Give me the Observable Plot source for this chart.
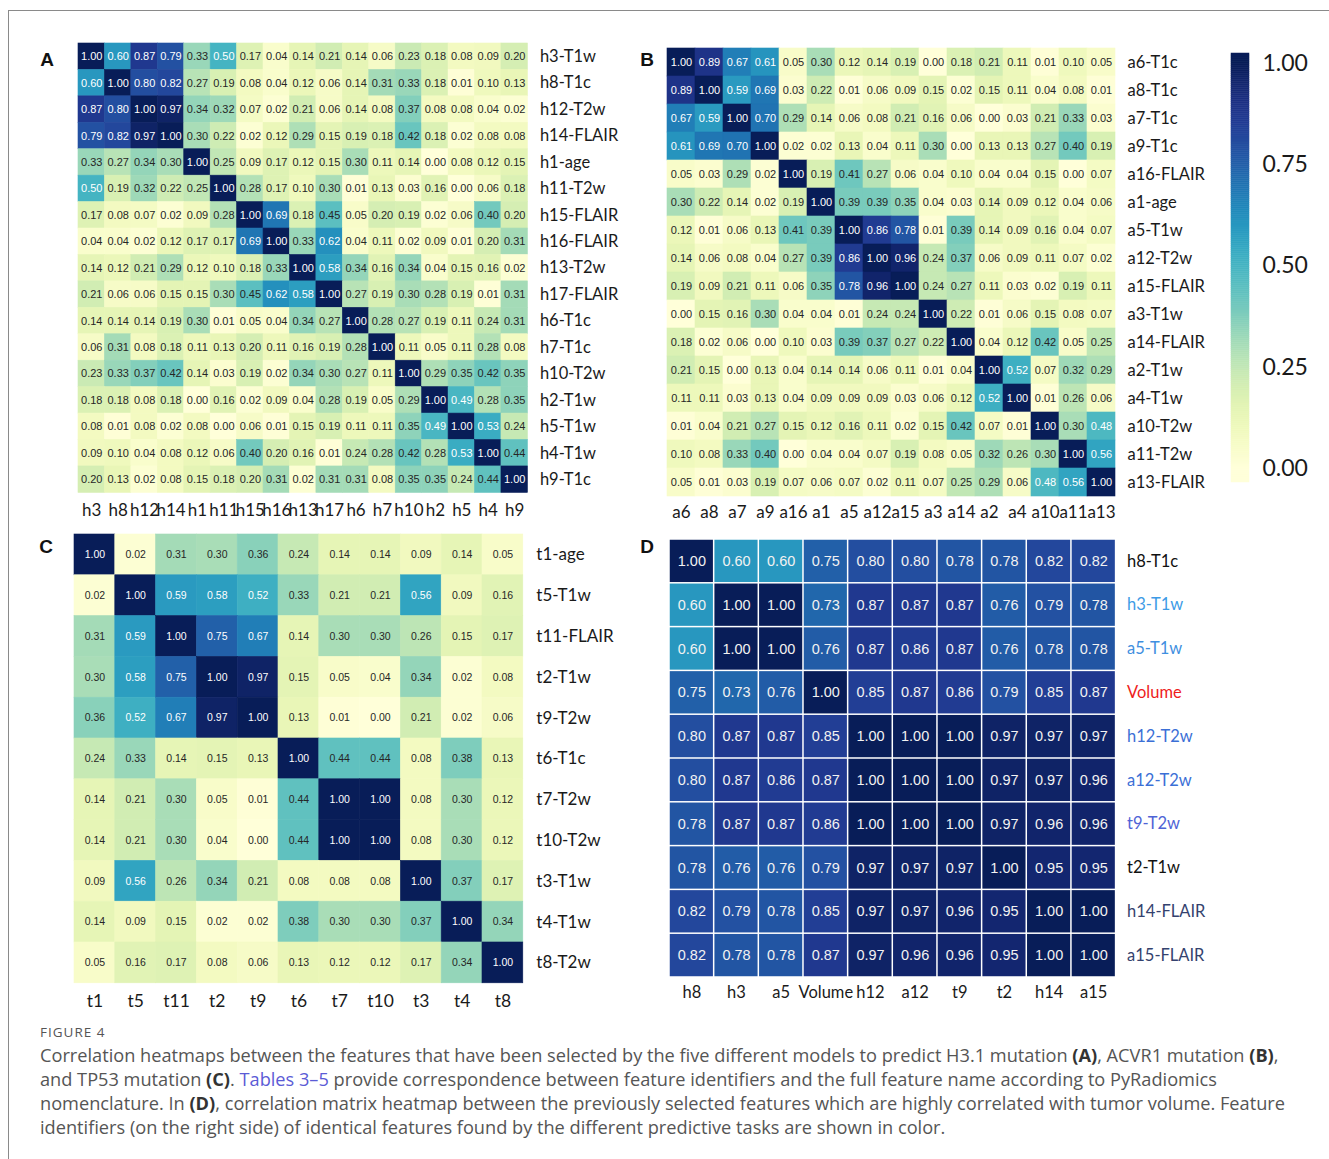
<!DOCTYPE html>
<html><head><meta charset="utf-8">
<script src="https://cdn.jsdelivr.net/npm/d3@7"></script>
<script src="https://cdn.jsdelivr.net/npm/@observablehq/plot@0.6"></script>
<style>
html,body{margin:0;padding:0;background:#fff;}
#root{position:relative;width:1329px;height:1159px;overflow:hidden;background:#fff;}
.frame-top{position:absolute;left:8px;top:10px;width:1321px;height:0;border-top:1px solid #8a8a8a;}
.frame-left{position:absolute;left:8px;top:10px;width:0;height:1149px;border-left:1px solid #8a8a8a;}
.panel{position:absolute;}
.panel svg{background:transparent !important;overflow:visible;max-width:none !important;}
.letter{position:absolute;font:bold 19px "Liberation Sans",Arial,sans-serif;color:#111;transform:translate(-50%,-50%);}
.fig{position:absolute;left:40px;top:1023px;font:13.5px "Open Sans",sans-serif;letter-spacing:1px;color:#555;}
.cap{position:absolute;left:40px;top:1043px;font:18.2px/24px "Open Sans",sans-serif;color:#555;white-space:nowrap;}
.cap b{color:#333;}
.cap .lnk{color:#5b5bd6;}
</style></head>
<body><div id="root">
<div class="frame-top"></div><div class="frame-left"></div>
<div class="letter" style="left:47px;top:60px">A</div>
<div class="letter" style="left:647px;top:60px">B</div>
<div class="letter" style="left:46px;top:547px">C</div>
<div class="letter" style="left:647px;top:547px">D</div>
<div class="fig">FIGURE 4</div>
<div class="cap">
<div>Correlation heatmaps between the features that have been selected by the five different models to predict H3.1 mutation <b>(A)</b>, ACVR1 mutation <b>(B)</b>,</div>
<div>and TP53 mutation <b>(C)</b>. <span class="lnk">Tables 3–5</span> provide correspondence between feature identifiers and the full feature name according to PyRadiomics</div>
<div>nomenclature. In <b>(D)</b>, correlation matrix heatmap between the previously selected features which are highly correlated with tumor volume. Feature</div>
<div>identifiers (on the right side) of identical features found by the different predictive tasks are shown in color.</div>
</div>
</div>
<script>
// ---------------- DATA ----------------
const rowsA = ["h3-T1w","h8-T1c","h12-T2w","h14-FLAIR","h1-age","h11-T2w","h15-FLAIR","h16-FLAIR","h13-T2w","h17-FLAIR","h6-T1c","h7-T1c","h10-T2w","h2-T1w","h5-T1w","h4-T1w","h9-T1c"];
const colsA = ["h3","h8","h12","h14","h1","h11","h15","h16","h13","h17","h6","h7","h10","h2","h5","h4","h9"];
const valuesA = [
[1.00,0.60,0.87,0.79,0.33,0.50,0.17,0.04,0.14,0.21,0.14,0.06,0.23,0.18,0.08,0.09,0.20],
[0.60,1.00,0.80,0.82,0.27,0.19,0.08,0.04,0.12,0.06,0.14,0.31,0.33,0.18,0.01,0.10,0.13],
[0.87,0.80,1.00,0.97,0.34,0.32,0.07,0.02,0.21,0.06,0.14,0.08,0.37,0.08,0.08,0.04,0.02],
[0.79,0.82,0.97,1.00,0.30,0.22,0.02,0.12,0.29,0.15,0.19,0.18,0.42,0.18,0.02,0.08,0.08],
[0.33,0.27,0.34,0.30,1.00,0.25,0.09,0.17,0.12,0.15,0.30,0.11,0.14,0.00,0.08,0.12,0.15],
[0.50,0.19,0.32,0.22,0.25,1.00,0.28,0.17,0.10,0.30,0.01,0.13,0.03,0.16,0.00,0.06,0.18],
[0.17,0.08,0.07,0.02,0.09,0.28,1.00,0.69,0.18,0.45,0.05,0.20,0.19,0.02,0.06,0.40,0.20],
[0.04,0.04,0.02,0.12,0.17,0.17,0.69,1.00,0.33,0.62,0.04,0.11,0.02,0.09,0.01,0.20,0.31],
[0.14,0.12,0.21,0.29,0.12,0.10,0.18,0.33,1.00,0.58,0.34,0.16,0.34,0.04,0.15,0.16,0.02],
[0.21,0.06,0.06,0.15,0.15,0.30,0.45,0.62,0.58,1.00,0.27,0.19,0.30,0.28,0.19,0.01,0.31],
[0.14,0.14,0.14,0.19,0.30,0.01,0.05,0.04,0.34,0.27,1.00,0.28,0.27,0.19,0.11,0.24,0.31],
[0.06,0.31,0.08,0.18,0.11,0.13,0.20,0.11,0.16,0.19,0.28,1.00,0.11,0.05,0.11,0.28,0.08],
[0.23,0.33,0.37,0.42,0.14,0.03,0.19,0.02,0.34,0.30,0.27,0.11,1.00,0.29,0.35,0.42,0.35],
[0.18,0.18,0.08,0.18,0.00,0.16,0.02,0.09,0.04,0.28,0.19,0.05,0.29,1.00,0.49,0.28,0.35],
[0.08,0.01,0.08,0.02,0.08,0.00,0.06,0.01,0.15,0.19,0.11,0.11,0.35,0.49,1.00,0.53,0.24],
[0.09,0.10,0.04,0.08,0.12,0.06,0.40,0.20,0.16,0.01,0.24,0.28,0.42,0.28,0.53,1.00,0.44],
[0.20,0.13,0.02,0.08,0.15,0.18,0.20,0.31,0.02,0.31,0.31,0.08,0.35,0.35,0.24,0.44,1.00]
];

const rowsB = ["a6-T1c","a8-T1c","a7-T1c","a9-T1c","a16-FLAIR","a1-age","a5-T1w","a12-T2w","a15-FLAIR","a3-T1w","a14-FLAIR","a2-T1w","a4-T1w","a10-T2w","a11-T2w","a13-FLAIR"];
const colsB = ["a6","a8","a7","a9","a16","a1","a5","a12","a15","a3","a14","a2","a4","a10","a11","a13"];
const valuesB = [
[1.00,0.89,0.67,0.61,0.05,0.30,0.12,0.14,0.19,0.00,0.18,0.21,0.11,0.01,0.10,0.05],
[0.89,1.00,0.59,0.69,0.03,0.22,0.01,0.06,0.09,0.15,0.02,0.15,0.11,0.04,0.08,0.01],
[0.67,0.59,1.00,0.70,0.29,0.14,0.06,0.08,0.21,0.16,0.06,0.00,0.03,0.21,0.33,0.03],
[0.61,0.69,0.70,1.00,0.02,0.02,0.13,0.04,0.11,0.30,0.00,0.13,0.13,0.27,0.40,0.19],
[0.05,0.03,0.29,0.02,1.00,0.19,0.41,0.27,0.06,0.04,0.10,0.04,0.04,0.15,0.00,0.07],
[0.30,0.22,0.14,0.02,0.19,1.00,0.39,0.39,0.35,0.04,0.03,0.14,0.09,0.12,0.04,0.06],
[0.12,0.01,0.06,0.13,0.41,0.39,1.00,0.86,0.78,0.01,0.39,0.14,0.09,0.16,0.04,0.07],
[0.14,0.06,0.08,0.04,0.27,0.39,0.86,1.00,0.96,0.24,0.37,0.06,0.09,0.11,0.07,0.02],
[0.19,0.09,0.21,0.11,0.06,0.35,0.78,0.96,1.00,0.24,0.27,0.11,0.03,0.02,0.19,0.11],
[0.00,0.15,0.16,0.30,0.04,0.04,0.01,0.24,0.24,1.00,0.22,0.01,0.06,0.15,0.08,0.07],
[0.18,0.02,0.06,0.00,0.10,0.03,0.39,0.37,0.27,0.22,1.00,0.04,0.12,0.42,0.05,0.25],
[0.21,0.15,0.00,0.13,0.04,0.14,0.14,0.06,0.11,0.01,0.04,1.00,0.52,0.07,0.32,0.29],
[0.11,0.11,0.03,0.13,0.04,0.09,0.09,0.09,0.03,0.06,0.12,0.52,1.00,0.01,0.26,0.06],
[0.01,0.04,0.21,0.27,0.15,0.12,0.16,0.11,0.02,0.15,0.42,0.07,0.01,1.00,0.30,0.48],
[0.10,0.08,0.33,0.40,0.00,0.04,0.04,0.07,0.19,0.08,0.05,0.32,0.26,0.30,1.00,0.56],
[0.05,0.01,0.03,0.19,0.07,0.06,0.07,0.02,0.11,0.07,0.25,0.29,0.06,0.48,0.56,1.00]
];

const rowsC = ["t1-age","t5-T1w","t11-FLAIR","t2-T1w","t9-T2w","t6-T1c","t7-T2w","t10-T2w","t3-T1w","t4-T1w","t8-T2w"];
const colsC = ["t1","t5","t11","t2","t9","t6","t7","t10","t3","t4","t8"];
const valuesC = [
[1.00,0.02,0.31,0.30,0.36,0.24,0.14,0.14,0.09,0.14,0.05],
[0.02,1.00,0.59,0.58,0.52,0.33,0.21,0.21,0.56,0.09,0.16],
[0.31,0.59,1.00,0.75,0.67,0.14,0.30,0.30,0.26,0.15,0.17],
[0.30,0.58,0.75,1.00,0.97,0.15,0.05,0.04,0.34,0.02,0.08],
[0.36,0.52,0.67,0.97,1.00,0.13,0.01,0.00,0.21,0.02,0.06],
[0.24,0.33,0.14,0.15,0.13,1.00,0.44,0.44,0.08,0.38,0.13],
[0.14,0.21,0.30,0.05,0.01,0.44,1.00,1.00,0.08,0.30,0.12],
[0.14,0.21,0.30,0.04,0.00,0.44,1.00,1.00,0.08,0.30,0.12],
[0.09,0.56,0.26,0.34,0.21,0.08,0.08,0.08,1.00,0.37,0.17],
[0.14,0.09,0.15,0.02,0.02,0.38,0.30,0.30,0.37,1.00,0.34],
[0.05,0.16,0.17,0.08,0.06,0.13,0.12,0.12,0.17,0.34,1.00]
];

const rowsD = ["h8-T1c","h3-T1w","a5-T1w","Volume","h12-T2w","a12-T2w","t9-T2w","t2-T1w","h14-FLAIR","a15-FLAIR"];
const colsD = ["h8","h3","a5","Volume","h12","a12","t9","t2","h14","a15"];
const valuesD = [
[1.00,0.60,0.60,0.75,0.80,0.80,0.78,0.78,0.82,0.82],
[0.60,1.00,1.00,0.73,0.87,0.87,0.87,0.76,0.79,0.78],
[0.60,1.00,1.00,0.76,0.87,0.86,0.87,0.76,0.78,0.78],
[0.75,0.73,0.76,1.00,0.85,0.87,0.86,0.79,0.85,0.87],
[0.80,0.87,0.87,0.85,1.00,1.00,1.00,0.97,0.97,0.97],
[0.80,0.87,0.86,0.87,1.00,1.00,1.00,0.97,0.97,0.96],
[0.78,0.87,0.87,0.86,1.00,1.00,1.00,0.97,0.96,0.96],
[0.78,0.76,0.76,0.79,0.97,0.97,0.97,1.00,0.95,0.95],
[0.82,0.79,0.78,0.85,0.97,0.97,0.96,0.95,1.00,1.00],
[0.82,0.78,0.78,0.87,0.97,0.96,0.96,0.95,1.00,1.00]
];

const colorbarTicks = [0, 0.25, 0.5, 0.75, 1];

// ---------------- STYLE ----------------
const labelColorsD = {
  "h8-T1c":"#111111","h3-T1w":"#3c9be6","a5-T1w":"#3f8fe0","Volume":"#ee1c1c",
  "h12-T2w":"#3b6fd6","a12-T2w":"#3b6fd6","t9-T2w":"#4f63d6","t2-T1w":"#111111",
  "h14-FLAIR":"#34426e","a15-FLAIR":"#34426e"
};
const LABEL_FONT = "Lato, 'Open Sans', sans-serif";
const NUM_FONT = "'Liberation Sans', Arial, sans-serif";
const root = document.getElementById("root");

function flatten(rows, cols, values) {
  const out = [];
  values.forEach((r, i) => r.forEach((v, j) => out.push({row: rows[i], col: cols[j], v})));
  return out;
}

function heat(cfg) {
  const data = flatten(cfg.rows, cfg.cols, cfg.values);
  const m = 4, thr = 0.47;
  const light = cfg.allLight ? data : data.filter(d => d.v > thr);
  const dark = cfg.allLight ? [] : data.filter(d => d.v <= thr);
  const txt = {x: "col", y: "row", text: d => d.v.toFixed(2), fontSize: cfg.cellFont, fontFamily: NUM_FONT};
  const svg = Plot.plot({
    width: m + cfg.w + cfg.mR, height: m + cfg.h + cfg.mB,
    marginLeft: m, marginTop: m, marginRight: cfg.mR, marginBottom: cfg.mB,
    x: {type: "band", domain: cfg.cols, padding: 0, round: false, axis: "bottom", tickSize: 0, tickPadding: cfg.xPad, label: null},
    y: {type: "band", domain: cfg.rows, padding: 0, round: false, axis: "right", tickSize: 0, tickPadding: cfg.yPad, label: null},
    color: {type: "sequential", scheme: "YlGnBu", domain: [0, 1]},
    style: {background: "transparent", overflow: "visible"},
    marks: [
      cfg.inset
        ? Plot.cell(data, {x: "col", y: "row", fill: "v", inset: cfg.inset})
        : Plot.cell(data, {x: "col", y: "row", fill: "v", stroke: "v", strokeWidth: 0.6}),
      Plot.text(light, {...txt, fill: cfg.lightColor || "white"}),
      Plot.text(dark, {...txt, fill: "#262626"})
    ]
  });
  svg.querySelectorAll('g[aria-label^="x-axis"] text').forEach(t => {
    t.style.fontSize = cfg.xFont + "px"; t.style.fontFamily = LABEL_FONT; t.style.fill = "#1a1a1a";
  });
  svg.querySelectorAll('g[aria-label^="y-axis"] text').forEach(t => {
    t.style.fontSize = cfg.yFont + "px"; t.style.fontFamily = LABEL_FONT;
    const c = cfg.labelColors && cfg.labelColors[t.textContent.trim()];
    t.style.fill = c || "#1a1a1a";
  });
  const div = document.createElement("div");
  div.className = "panel";
  div.style.left = (cfg.left - m) + "px";
  div.style.top = (cfg.top - m) + "px";
  div.style.width = (m + cfg.w + cfg.mR) + "px";
  div.appendChild(svg);
  root.appendChild(div);
}

heat({rows: rowsA, cols: colsA, values: valuesA, left: 77.8, top: 42.8, w: 449.4, h: 449.4, mR: 110, mB: 36,
      xPad: 11, yPad: 12, xFont: 17, yFont: 16.5, cellFont: 11});
heat({rows: rowsB, cols: colsB, values: valuesB, left: 667, top: 48, w: 448, h: 448, mR: 100, mB: 36,
      xPad: 9, yPad: 12, xFont: 17, yFont: 16.5, cellFont: 11});
heat({rows: rowsC, cols: colsC, values: valuesC, left: 73.6, top: 533.6, w: 448.8, h: 448.8, mR: 100, mB: 36,
      xPad: 11, yPad: 13, xFont: 17.5, yFont: 17, cellFont: 10.5});
heat({rows: rowsD, cols: colsD, values: valuesD, left: 668.7, top: 539, w: 446.6, h: 438, mR: 110, mB: 36,
      xPad: 9, yPad: 11, xFont: 16.5, yFont: 16.5, cellFont: 14.5, inset: 0.75, allLight: true, lightColor: "#f2f2f2",
      labelColors: labelColorsD});

// colorbar (legend)
(function colorbar() {
  const lo = -0.035, hi = 1.025, n = 212;
  const stripes = d3.range(n).map(i => {
    const a = lo + (hi - lo) * i / n, b = lo + (hi - lo) * (i + 1) / n;
    return {x1: 0, x2: 1, a, b, c: Math.max(0, Math.min(1, (a + b) / 2))};
  });
  const W = 18, mR = 84, H = 429;
  const svg = Plot.plot({
    width: W + mR, height: H, marginLeft: 0, marginRight: mR, marginTop: 0, marginBottom: 0,
    x: {domain: [0, 1], axis: null},
    y: {domain: [lo, hi], axis: "right", ticks: colorbarTicks, tickFormat: d3.format(".2f"), tickSize: 0, tickPadding: 13, label: null},
    color: {type: "sequential", scheme: "YlGnBu", domain: [0, 1]},
    style: {background: "transparent", overflow: "visible"},
    marks: [Plot.rect(stripes, {x1: "x1", x2: "x2", y1: "a", y2: "b", fill: "c", stroke: "c", strokeWidth: 0.5})]
  });
  svg.querySelectorAll('g[aria-label^="y-axis"] text').forEach(t => {
    t.style.fontSize = "23px"; t.style.fontFamily = LABEL_FONT; t.style.fill = "#1a1a1a";
  });
  const div = document.createElement("div");
  div.className = "panel";
  div.style.left = "1231px"; div.style.top = "53px"; div.style.width = (W + mR) + "px";
  div.appendChild(svg);
  root.appendChild(div);
})();
</script>
</body></html>
